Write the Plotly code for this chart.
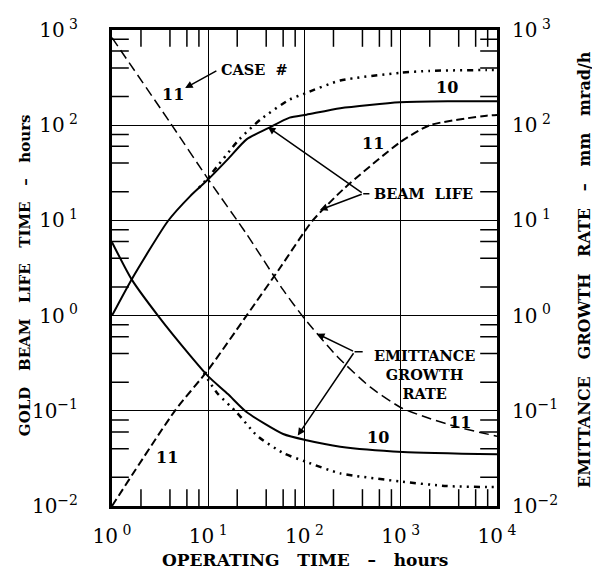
import plotly.graph_objects as go

# Durée de vie du faisceau (heures) - cas 10 (trait plein)
life10_t = [1, 1.6, 3.8, 6.5, 10, 16, 25, 42, 70, 105, 235, 980, 3200, 10000]
life10_v = [1.0, 2.4, 9.8, 18, 27, 44, 71, 93, 120, 129, 151, 174, 178, 178]

# Durée de vie - cas 11 (tirets)
life11_t = [1, 4.5, 10, 25, 56, 120, 250, 980, 2000, 7800, 10000]
life11_v = [0.01, 0.1, 0.27, 1.0, 3.2, 9.8, 21, 66, 100, 126, 128]

# Durée de vie - troisième cas (pointillés)
life_dot_t = [8, 10.5, 21, 35, 70, 105, 235, 980, 2000, 7800, 10000]
life_dot_v = [22, 30, 71, 115, 186, 219, 295, 355, 372, 380, 380]

# Taux de croissance d'émittance (mm mrad/h) - cas 10
emit10_t = [1, 1.6, 3.0, 6.5, 10, 16, 25, 60, 105, 235, 1050, 10000]
emit10_v = [5.9, 2.4, 1.0, 0.38, 0.23, 0.15, 0.097, 0.057, 0.049, 0.042, 0.037, 0.035]

# Emittance - cas 11
emit11_t = [1, 4, 10, 25, 60, 100, 220, 480, 1020, 2000, 3800, 10000]
emit11_v = [830, 107, 27, 7.2, 1.86, 0.93, 0.37, 0.178, 0.107, 0.083, 0.068, 0.054]

# Emittance - troisième cas
emit_dot_t = [9, 12.3, 20, 32, 60, 105, 235, 1050, 3000, 8500, 10000]
emit_dot_v = [0.25, 0.155, 0.095, 0.055, 0.036, 0.029, 0.022, 0.018, 0.0162, 0.0158, 0.0158]

x_ticks = [1, 10, 100, 1000, 10000]
x_ticktext = ["10<sup> 0</sup>", "10<sup> 1</sup>", "10<sup> 2</sup>", "10<sup> 3</sup>", "10<sup> 4</sup>"]
y_ticks = [0.01, 0.1, 1, 10, 100, 1000]
y_ticktext = ["10<sup>−2</sup>", "10<sup>−1</sup>", "10<sup> 0</sup>", "10<sup> 1</sup>", "10<sup> 2</sup>", "10<sup> 3</sup>"]
minor_mult = [2, 4, 6, 8]

FONT = "DejaVu Serif"
dotted = "2px,5px,2px,5px,2px,5px,6px,5px"
nb = "\u00a0"

fig = go.Figure()

fig.add_trace(go.Scatter(x=life10_t, y=life10_v, mode="lines",
                         line=dict(color="black", width=2, shape="spline", smoothing=0.6)))
fig.add_trace(go.Scatter(x=life11_t, y=life11_v, mode="lines",
                         line=dict(color="black", width=2, dash="8px,4px", shape="spline", smoothing=0.6)))
fig.add_trace(go.Scatter(x=life_dot_t, y=life_dot_v, mode="lines",
                         line=dict(color="black", width=2.5, dash=dotted, shape="spline", smoothing=0.6)))
fig.add_trace(go.Scatter(x=emit10_t, y=emit10_v, mode="lines", yaxis="y2",
                         line=dict(color="black", width=2, shape="spline", smoothing=0.6)))
fig.add_trace(go.Scatter(x=emit11_t, y=emit11_v, mode="lines", yaxis="y2",
                         line=dict(color="black", width=1.5, dash="10px,5px", shape="spline", smoothing=0.6)))
fig.add_trace(go.Scatter(x=emit_dot_t, y=emit_dot_v, mode="lines", yaxis="y2",
                         line=dict(color="black", width=2.5, dash=dotted, shape="spline", smoothing=0.6)))

# petites graduations intérieures (2, 4, 6, 8) : marqueurs en trait coupés par le cadre
minor_x = [m * d for d in x_ticks[:-1] for m in minor_mult]
minor_y = [m * d for d in y_ticks[:-1] for m in minor_mult]
x_lo, x_hi = x_ticks[0], x_ticks[-1]
y_lo, y_hi = y_ticks[0], y_ticks[-1]
tick_mk = dict(size=24, color="black", line=dict(width=1.5, color="black"))
fig.add_trace(go.Scatter(x=minor_x + minor_x, y=[y_lo] * len(minor_x) + [y_hi] * len(minor_x),
                         mode="markers", cliponaxis=True, hoverinfo="skip",
                         marker=dict(tick_mk, symbol="line-ns-open")))
fig.add_trace(go.Scatter(x=[x_lo] * len(minor_y) + [x_hi] * len(minor_y), y=minor_y + minor_y,
                         mode="markers", cliponaxis=True, hoverinfo="skip",
                         marker=dict(tick_mk, symbol="line-ew-open")))

axis_common = dict(
    type="log", showline=True, linewidth=3, linecolor="black", mirror=True,
    showgrid=True, gridcolor="black", gridwidth=1.2, ticks="",
    zeroline=False, automargin=False,
    tickfont=dict(family=FONT, size=20, color="black"),
)

fig.update_layout(
    width=600, height=581,
    # la page ajoute une marge de 8 px autour du graphique
    margin=dict(l=104, r=111, t=22, b=83, autoexpand=False),
    plot_bgcolor="white", paper_bgcolor="white",
    showlegend=False,
    font=dict(family=FONT, color="black"),
    xaxis=dict(axis_common, range=[0, 4], tickvals=x_ticks, ticktext=x_ticktext, ticklabelstandoff=10),
    yaxis=dict(axis_common, range=[-2, 3], tickvals=y_ticks, ticktext=y_ticktext, ticklabelstandoff=27),
    yaxis2=dict(axis_common, range=[-2, 3], tickvals=y_ticks, ticktext=y_ticktext,
                overlaying="y", side="right", showgrid=False, ticklabelstandoff=8),
)

sp = nb * 3
lab = dict(family=FONT, size=14.5, color="black")
num = dict(family=FONT, size=16, color="black")
annotations = [
    # titres des axes
    dict(xref="paper", yref="paper", x=0.501, y=-0.1134, xanchor="center", yanchor="middle",
         showarrow=False, text=f"<b>OPERATING{sp}TIME{sp}–{sp}hours</b>",
         font=dict(family=FONT, size=17, color="black")),
    dict(xref="paper", yref="paper", x=-0.226, y=0.485, xanchor="center", yanchor="middle",
         showarrow=False, textangle=-90,
         text=f"<b>GOLD{sp}BEAM{sp}LIFE{sp}TIME{sp}–{sp}hours</b>",
         font=dict(family=FONT, size=15, color="black")),
    dict(xref="paper", yref="paper", x=1.2286, y=0.496, xanchor="center", yanchor="middle",
         showarrow=False, textangle=-90,
         text=f"<b>EMITTANCE{sp}GROWTH{sp}RATE{sp}–{sp}mm{sp}mrad/h</b>",
         font=dict(family=FONT, size=16, color="black")),
    # étiquettes des cas
    dict(x=0.63, y=2.32, text="<b>11</b>", showarrow=False, font=num),
    dict(x=3.48, y=2.40, text="<b>10</b>", showarrow=False, font=num),
    dict(x=2.71, y=1.81, text="<b>11</b>", showarrow=False, font=num),
    dict(x=2.76, y=-1.28, text="<b>10</b>", showarrow=False, font=num),
    dict(x=3.62, y=-1.12, text="<b>11</b>", showarrow=False, font=num),
    dict(x=0.57, y=-1.49, text="<b>11</b>", showarrow=False, font=num),
    # CASE #
    dict(x=1.48, y=2.58, text=f"<b>CASE{nb}{nb}#</b>", showarrow=False, font=lab),
    dict(x=0.76, y=2.39, ax=1.10, ay=2.58, axref="x", ayref="y", text="",
         showarrow=True, arrowhead=2, arrowsize=1, arrowwidth=1.5, arrowcolor="black"),
    # BEAM LIFE
    dict(x=3.24, y=1.28, text=f"<b>BEAM{nb}{nb}LIFE</b>", showarrow=False, font=lab),
    dict(x=2.61, y=1.28, ax=2.69, ay=1.28, axref="x", ayref="y", text="",
         showarrow=True, arrowhead=0, arrowwidth=1.5, arrowcolor="black"),
    dict(x=1.62, y=1.98, ax=2.61, ay=1.28, axref="x", ayref="y", text="",
         showarrow=True, arrowhead=2, arrowsize=1, arrowwidth=1.5, arrowcolor="black"),
    dict(x=2.16, y=1.11, ax=2.61, ay=1.28, axref="x", ayref="y", text="",
         showarrow=True, arrowhead=2, arrowsize=1, arrowwidth=1.5, arrowcolor="black"),
    # EMITTANCE GROWTH RATE
    dict(x=3.25, y=-0.62, text="<b>EMITTANCE<br>GROWTH<br>RATE</b>", showarrow=False, font=lab),
    dict(x=2.52, y=-0.38, ax=2.62, ay=-0.38, axref="x", ayref="y", text="",
         showarrow=True, arrowhead=0, arrowwidth=1.5, arrowcolor="black"),
    dict(x=2.13, y=-0.19, ax=2.52, ay=-0.38, axref="x", ayref="y", text="",
         showarrow=True, arrowhead=2, arrowsize=1, arrowwidth=1.5, arrowcolor="black"),
    dict(x=1.93, y=-1.26, ax=2.52, ay=-0.38, axref="x", ayref="y", text="",
         showarrow=True, arrowhead=2, arrowsize=1, arrowwidth=1.5, arrowcolor="black"),
]
fig.update_layout(annotations=annotations)

fig.write_html("out.html")
